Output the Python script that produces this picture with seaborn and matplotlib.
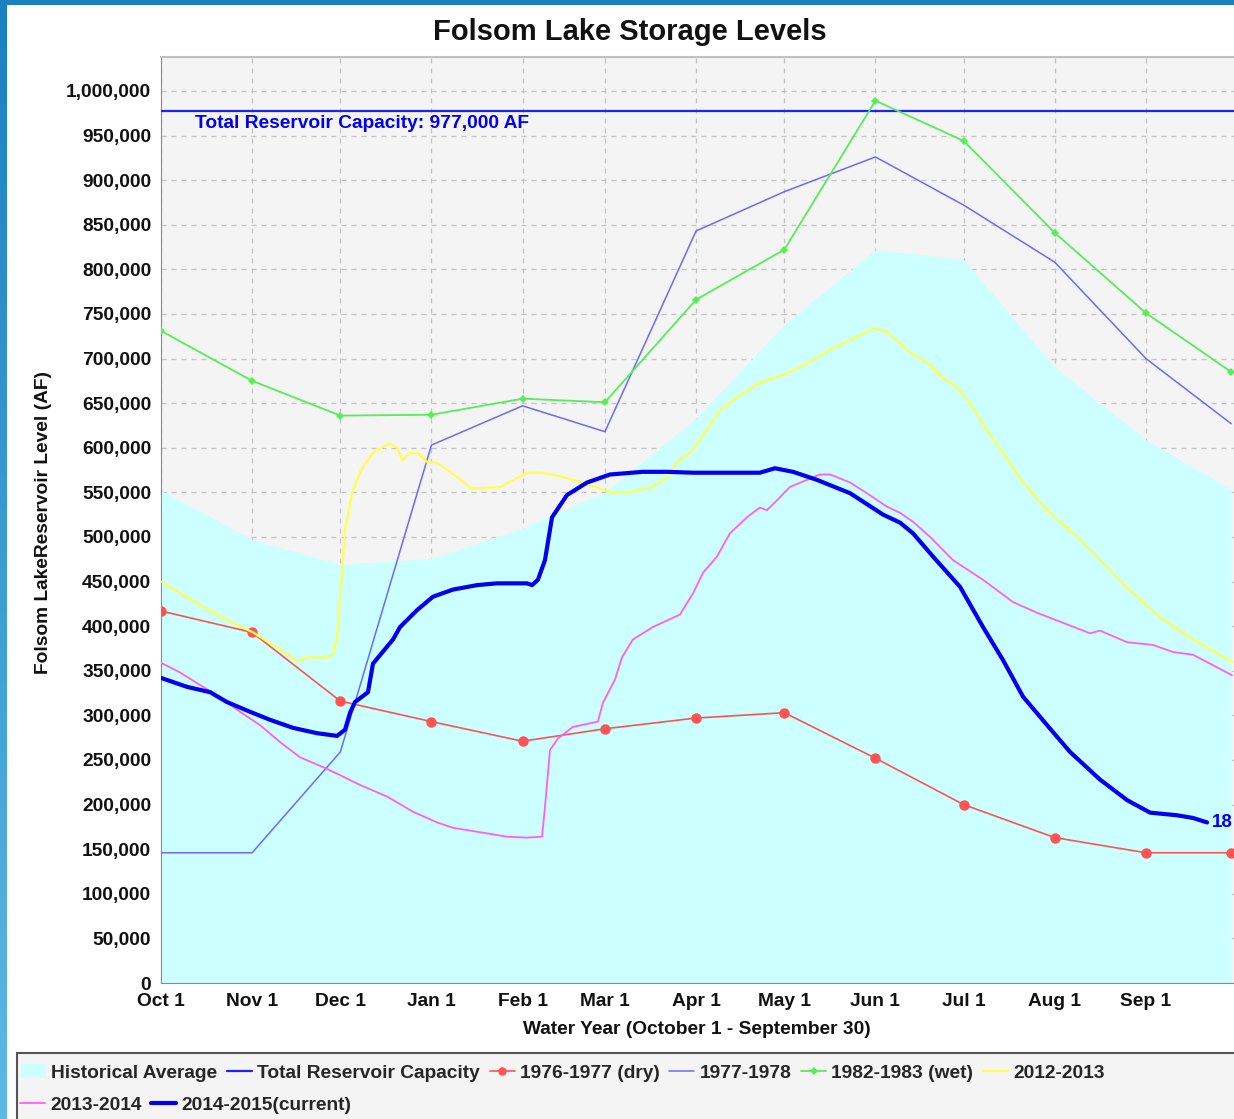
import numpy as np
import pandas as pd
import matplotlib
matplotlib.use("Agg")
import matplotlib.pyplot as plt
import seaborn as sns
from matplotlib.lines import Line2D
from matplotlib.patches import Patch, Rectangle
from matplotlib.ticker import FuncFormatter
from matplotlib.colors import LinearSegmentedColormap

# ---------------- data (day of water year since Oct 1, thousand AF) ----------------
tick_days = [0, 31, 61, 92, 123, 151, 182, 212, 243, 273, 304, 335]
tick_labels = ["Oct 1", "Nov 1", "Dec 1", "Jan 1", "Feb 1", "Mar 1", "Apr 1",
               "May 1", "Jun 1", "Jul 1", "Aug 1", "Sep 1"]

month_days = [0, 31, 61, 92, 123, 151, 182, 212, 243, 273, 304, 335, 364]
hist_avg_kaf = [552, 497, 469, 476, 510, 550, 633, 738, 822, 811, 690, 609, 553]
dry_1976_kaf = [417, 393, 316, 293, 271, 285, 297, 303, 252, 200, 163, 146, 146]
yr_1977_kaf = [146, 146, 259, 603, 647, 618, 843, 887, 926, 872, 808, 700, 627]
wet_1982_kaf = [731, 675, 636, 637, 655, 651, 766, 822, 989, 944, 841, 751, 685]

capacity_af = 977000

y2012_days = [0, 6.5, 13.3, 22.4, 31.3, 39.5, 46.3, 49.7, 56.5, 58.5, 59.9, 61.6, 62.6,
              65.0, 67.7, 72.1, 77.9, 80.3, 82.0, 84.7, 87.4, 90.5, 93.9, 98.3, 102.7,
              105.8, 115.3, 118.7, 124.5, 128.9, 133.3, 143.5, 153.7, 159.5, 167.3,
              172.1, 175.5, 179.9, 183.3, 190.1, 196.9, 203.7, 211.9, 220.7, 227.6,
              234.4, 237.8, 242.2, 246.9, 254.8, 261.6, 266.0, 270.7, 275.2, 280.9,
              286.4, 293.2, 301.4, 311.6, 320.4, 328.6, 339.8, 351.0, 364.3]
y2012_kaf = [450, 437, 424, 407, 393, 376, 361, 365, 365, 368, 388, 463, 508,
             549, 573, 595, 605, 600, 586, 594, 594, 584, 583, 573, 562,
             554, 556, 562, 572, 572, 570, 561, 549, 550, 556,
             567, 584, 594, 609, 642, 659, 673, 682, 696, 710,
             721, 726, 734, 730, 707, 693, 678, 668, 650, 620,
             594, 561, 530, 500, 471, 443, 410, 385, 360]

y2013_days = [0, 6.5, 13.3, 20.1, 26.9, 33.7, 40.5, 47.3, 55.1, 60.9, 67.7, 76.9, 85.7,
              93.9, 99.3, 108.5, 117.7, 124.5, 129.6, 130.6, 132.3, 135.0, 140.1,
              148.6, 150.3, 154.4, 156.8, 160.5, 167.3, 176.5, 181.0, 184.4, 189.1,
              193.5, 199.3, 203.7, 206.1, 209.5, 213.9, 219.7, 224.1, 227.6, 234.4,
              240.1, 246.9, 251.4, 255.8, 261.6, 269.4, 279.6, 289.8, 298.0, 305.8,
              316.0, 319.4, 328.6, 337.4, 344.2, 351.0, 364.3]
y2013_kaf = [359, 348, 334, 320, 304, 289, 270, 253, 242, 233, 222, 209, 192,
             180, 174, 169, 164, 163, 164, 197, 261, 274, 287,
             293, 314, 340, 365, 385, 399, 413, 437, 460, 478,
             504, 522, 533, 530, 541, 556, 564, 570, 570, 561,
             549, 534, 527, 517, 500, 474, 452, 427, 415, 405,
             392, 395, 382, 379, 371, 368, 345]

y2014_days = [0, 8.8, 16.7, 22.4, 30.3, 37.1, 44.9, 53.1, 59.9, 62.6, 64.3, 66.0, 70.4,
              72.1, 78.9, 81.3, 87.1, 92.5, 99.3, 107.5, 114.3, 124.5, 126.2, 128.2,
              130.6, 133.0, 138.1, 144.9, 152.7, 163.9, 172.1, 181.0, 194.6, 203.7,
              208.8, 215.0, 223.1, 234.4, 245.6, 251.4, 255.8, 262.6, 271.8, 279.6,
              286.4, 293.2, 301.4, 309.2, 319.4, 328.6, 336.4, 345.6, 351.0, 355.8]
y2014_kaf = [342, 332, 326, 315, 304, 295, 286, 280, 277, 284, 303, 315, 326,
             358, 385, 399, 418, 433, 441, 446, 448, 448, 446, 452,
             474, 522, 547, 561, 570, 573, 573, 572, 572, 572,
             577, 573, 564, 549, 525, 516, 504, 478, 444, 399,
             362, 321, 289, 259, 228, 205, 191, 188, 185, 180]
current_label = "18"

# ---------------- figure ----------------
sns.set_style("white")
plt.rcParams["font.family"] = ["Liberation Sans", "DejaVu Sans"]
plt.rcParams["font.weight"] = "bold"

W, H = 1234, 1119
fig = plt.figure(figsize=(W / 100, H / 100), dpi=100, facecolor="white")

# decorative blue frame
fig.patches.append(Rectangle((0, 1 - 5 / H), 1, 5 / H, transform=fig.transFigure,
                             facecolor="#1b80c0", edgecolor="none", zorder=0))
gax = fig.add_axes([0, 0, 7 / W, 1 - 5 / H])
gax.imshow(np.linspace(0, 1, 256).reshape(-1, 1), aspect="auto",
           cmap=LinearSegmentedColormap.from_list("b", ["#1b80c0", "#5db9e4"]))
gax.axis("off")

# legend panel
fig.patches.append(Rectangle((17 / W, -0.01), 1.1, (H - 1053) / H + 0.01,
                             transform=fig.transFigure, facecolor="#f4f4f4",
                             edgecolor="#555555", linewidth=1.5, zorder=0))

ax = fig.add_axes([161 / W, 1 - 983 / H, (1234.1 - 161) / W, (983 - 57) / H])
ax.set_facecolor("#f4f4f4")

k = 1000
ax.fill_between(month_days, np.array(hist_avg_kaf) * k, color="#ccffff", lw=0, zorder=1)
ax.axhline(capacity_af, color="#2020ff", lw=1.6, zorder=3)

def draw(days, vals, color, lw, **kw):
    df = pd.DataFrame({"day": days, "af": np.array(vals) * k})
    sns.lineplot(data=df, x="day", y="af", ax=ax, color=color, lw=lw,
                 estimator=None, sort=False, zorder=kw.pop("zorder", 4), **kw)

draw(month_days, dry_1976_kaf, "#ff5252", 1.2, marker="o", markersize=7.5,
     markeredgecolor="#ff5252", markeredgewidth=0)
draw(month_days, yr_1977_kaf, "#6a6aff", 1.1)
draw(month_days, wet_1982_kaf, "#55ee55", 1.3, marker="D", markersize=4.5,
     markeredgecolor="#55ee55", markeredgewidth=0)
draw(y2012_days, y2012_kaf, "#ffff50", 1.6)
draw(y2013_days, y2013_kaf, "#ff5cff", 1.3)
draw(y2014_days, y2014_kaf, "#0000ee", 3.0, zorder=6)

if ax.get_legend() is not None:
    ax.get_legend().remove()

ax.set_xlim(0, 365)
ax.set_ylim(0, 1038000)
ax.set_xticks(tick_days)
ax.set_xticklabels(tick_labels)
ax.set_yticks(np.arange(0, 1000001, 50000))
ax.yaxis.set_major_formatter(FuncFormatter(lambda v, p: f"{int(v):,}"))
ax.set_xlabel("")
ax.set_ylabel("")
ax.tick_params(axis="both", length=4, width=1, color="#888888", pad=3,
               labelsize=13.8, labelcolor="#111111")
ax.grid(True, color="#c4c4c4", linestyle=(0, (4, 4)), lw=0.9)
ax.set_axisbelow(True)
for s in ["left", "bottom"]:
    ax.spines[s].set_color("#8a8a8a")
ax.spines["top"].set_color("#c0c0c0")
ax.spines["top"].set_linewidth(1.5)
ax.spines["right"].set_visible(False)

ax.text(11.6, 963000, "Total Reservoir Capacity: 977,000 AF", color="#0000ee",
        fontsize=13.8, fontweight="bold", va="center", ha="left", zorder=7)
ax.text(357.6, 180000, current_label, color="#0000ee", fontsize=13.5,
        fontweight="bold", va="center", ha="left", clip_on=False, zorder=7)

fig.text(630 / W, 1 - 32 / H, "Folsom Lake Storage Levels", ha="center", va="center",
         fontsize=21, fontweight="bold", color="#111111")
fig.text(44 / W, 1 - 522 / H, "Folsom LakeReservoir Level (AF)", rotation=90,
         ha="center", va="center", fontsize=13.8, fontweight="bold", color="#111111")
fig.text(697 / W, 1 - 1029 / H, "Water Year (October 1 - September 30)", ha="center",
         va="center", fontsize=13.8, fontweight="bold", color="#111111")

# legend
handles = [
    Patch(facecolor="#ccffff", edgecolor="none"),
    Line2D([], [], color="#2020ff", lw=1.6),
    Line2D([], [], color="#ff5252", lw=1.2, marker="o", markersize=6, markeredgewidth=0),
    Line2D([], [], color="#6a6aff", lw=1.1),
    Line2D([], [], color="#55ee55", lw=1.3, marker="D", markersize=4, markeredgewidth=0),
    Line2D([], [], color="#ffff50", lw=1.6),
    Line2D([], [], color="#ff5cff", lw=1.3),
    Line2D([], [], color="#0000ee", lw=3.0),
]
labels = ["Historical Average", "Total Reservoir Capacity", "1976-1977 (dry)",
          "1977-1978", "1982-1983 (wet)", "2012-2013", "2013-2014",
          "2014-2015(current)"]
common = dict(frameon=False, handlelength=1.3, handletextpad=0.28, columnspacing=0.5,
              borderpad=0, borderaxespad=0, loc="center left",
              prop={"weight": "bold", "size": 13.8, "family": "Liberation Sans"})
fig.legend(handles[:6], labels[:6], ncol=6, bbox_to_anchor=(21 / W, 1 - 1073 / H), **common)
fig.legend(handles[6:], labels[6:], ncol=2, bbox_to_anchor=(20 / W, 1 - 1105 / H), **common)

fig.savefig("out.png", dpi=100)
